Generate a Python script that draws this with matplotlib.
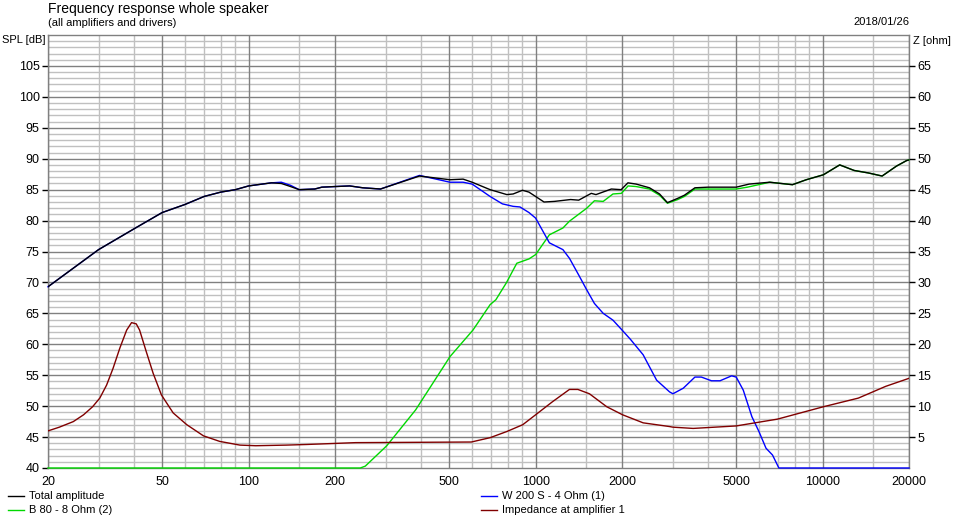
import numpy as np
import matplotlib.pyplot as plt
from matplotlib.lines import Line2D
from matplotlib.ticker import FixedLocator, NullFormatter

plt.rcParams['font.family'] = ['Liberation Sans', 'DejaVu Sans']

# total amplitude (dB)
tot_f = [20, 30, 40, 50, 60, 70, 80, 90, 100, 120, 130, 140, 150, 170, 180, 200, 225, 250,
         288, 394, 503, 559, 601, 694, 794, 835, 900, 948, 1070, 1163, 1324, 1413, 1563, 1623,
         1836, 1987, 2097, 2240, 2493, 2703, 2880, 3130, 3300, 3590, 3990, 5000, 5550, 6540,
         7850, 8770, 10060, 11470, 12880, 14430, 16120, 18080, 19620, 20000]
tot_db = [69.3, 75.3, 78.7, 81.3, 82.6, 83.9, 84.6, 85.0, 85.6, 86.1, 86.0, 85.5, 85.0, 85.1, 85.4, 85.5, 85.6, 85.3,
          85.1, 87.2, 86.6, 86.7, 86.2, 85.0, 84.2, 84.3, 84.9, 84.6, 83.0, 83.1, 83.4, 83.3, 84.4, 84.2,
          85.1, 85.0, 86.1, 85.9, 85.3, 84.3, 82.9, 83.6, 84.1, 85.3, 85.4, 85.4, 85.9, 86.2,
          85.8, 86.6, 87.4, 89.0, 88.1, 87.7, 87.2, 88.8, 89.7, 89.8]

# W 200 S - 4 Ohm (1)
woof_f = [20, 30, 40, 50, 60, 70, 80, 90, 100, 120, 130, 140, 150, 170, 180, 200, 225, 250,
          288, 394, 503, 559, 601, 694, 766, 835, 882, 948, 1000, 1117, 1245, 1312, 1413, 1507,
          1603, 1720, 1860, 2010, 2140, 2370, 2640, 2930, 3010, 3270, 3590, 3780, 4100, 4390, 4820, 5000,
          5290, 5670, 6000, 6350, 6690, 7040, 20000]
woof_db = [69.3, 75.3, 78.7, 81.3, 82.6, 83.9, 84.6, 85.0, 85.6, 86.1, 86.2, 85.7, 85.0, 85.1, 85.4, 85.5, 85.6, 85.3,
           85.1, 87.3, 86.2, 86.2, 85.9, 83.9, 82.7, 82.3, 82.2, 81.3, 80.4, 76.4, 75.3, 73.9, 71.2, 68.8,
           66.6, 65.0, 63.9, 62.2, 60.8, 58.3, 54.2, 52.3, 52.0, 52.9, 54.7, 54.7, 54.1, 54.1, 54.9, 54.7,
           52.6, 48.3, 45.9, 43.2, 42.1, 40.0, 40.0]

# B 80 - 8 Ohm (2)
tw_f = [20, 245, 255, 303, 382, 503, 605, 694, 727, 790, 860, 948, 1000, 1117, 1245, 1312, 1507, 1603,
        1720, 1860, 1990, 2100, 2240, 2490, 2703, 2880, 3130, 3300, 3590, 3990, 5000, 5470, 6540,
        7850, 8770, 10060, 11470, 12880, 14430, 16120, 18080, 19620, 20000]
tw_db = [40.0, 40.0, 40.3, 43.6, 49.4, 58.0, 62.3, 66.4, 67.2, 69.9, 73.1, 73.8, 74.5, 77.7, 78.8, 79.9, 82.0, 83.2,
         83.1, 84.3, 84.4, 85.6, 85.5, 85.1, 84.1, 82.8, 83.4, 83.9, 85.1, 85.1, 85.1, 85.4, 86.2,
         85.8, 86.6, 87.4, 89.0, 88.1, 87.7, 87.2, 88.8, 89.7, 89.8]

# impedance at amplifier 1 (ohm)
imp_f = [20, 21.9, 24.5, 26.6, 28.6, 30.3, 32.0, 33.7, 35.6, 37.6, 39.1, 40.6, 41.7, 44.0, 46.5,
         49.7, 54.6, 60.9, 69.6, 79.3, 93.3, 106, 135, 159, 207, 236, 597, 694, 794, 902, 1000,
         1144, 1312, 1404, 1540, 1770, 2010, 2370, 2930, 3010, 3540, 5000, 6960, 10060, 13320,
         16590, 20000]
imp_ohm = [6.0, 6.6, 7.5, 8.6, 9.9, 11.3, 13.4, 16.1, 19.4, 22.3, 23.5, 23.3, 22.3, 18.8, 15.3,
           11.8, 8.9, 7.0, 5.2, 4.3, 3.7, 3.6, 3.7, 3.8, 4.0, 4.1, 4.2, 4.9, 5.9, 7.0, 8.6,
           10.7, 12.7, 12.7, 12.0, 9.9, 8.6, 7.3, 6.7, 6.6, 6.4, 6.8, 7.9, 9.9, 11.3,
           13.2, 14.5]

x_major = [20, 50, 100, 200, 500, 1000, 2000, 5000, 10000, 20000]
x_minor = [30, 40, 60, 70, 80, 90, 150, 300, 400, 600, 700, 800, 900, 1500,
           3000, 4000, 6000, 7000, 8000, 9000, 15000]

fig = plt.figure(figsize=(9.54, 5.19), dpi=100)
W, H = 954, 519
ax = fig.add_axes([48 / W, (H - 468) / H, (909 - 48) / W, (468 - 35) / H])
ax.set_xscale('log')
ax.set_xlim(20, 20000)
ax.set_ylim(40, 110)

# grid
for y in range(41, 110):
    if y % 5:
        ax.axhline(y, color='#c0c0c0', lw=1, zorder=0)
for x in x_minor:
    ax.axvline(x, color='#c0c0c0', lw=1, zorder=0.5)
for y in range(45, 110, 5):
    ax.axhline(y, color='#808080', lw=1, zorder=1)
for x in x_major:
    ax.axvline(x, color='#808080', lw=1, zorder=1)

ax.plot(tw_f, tw_db, color='#00d800', lw=1, zorder=3, clip_on=False)
ax.plot(woof_f, woof_db, color='#0000ff', lw=1, zorder=4, clip_on=False)
ax.plot(tot_f, tot_db, color='black', lw=1, zorder=5)

ax.xaxis.set_major_locator(FixedLocator(x_major))
ax.xaxis.set_minor_locator(FixedLocator([]))
ax.set_xticklabels([str(v) for v in x_major])
ax.xaxis.set_minor_formatter(NullFormatter())
ax.tick_params(axis='x', length=0, labelsize=9, pad=6)
ax.set_yticks(range(40, 110, 5))
ax.tick_params(axis='y', length=4, width=1, labelsize=9, pad=2)

for s in ax.spines.values():
    s.set_color('#808080')
    s.set_linewidth(1)

ax2 = ax.twinx()
ax2.set_ylim(0, 70)
ax2.plot(imp_f, imp_ohm, color='#800000', lw=1, zorder=6)
ax2.set_yticks(range(5, 70, 5))
ax2.tick_params(axis='y', length=4, width=1, labelsize=9, pad=2)
for s in ax2.spines.values():
    s.set_visible(False)

fig.text(48 / W, 1 - 9 / H, 'Frequency response whole speaker', fontsize=10, va='center', ha='left')
fig.text(48 / W, 1 - 23 / H, '(all amplifiers and drivers)', fontsize=8, va='center', ha='left')
fig.text(909 / W, 1 - 22 / H, '2018/01/26', fontsize=8, va='center', ha='right')
fig.text(2 / W, 1 - 40 / H, 'SPL [dB]', fontsize=8, va='center', ha='left')
fig.text(913 / W, 1 - 41 / H, 'Z [ohm]', fontsize=8, va='center', ha='left')

# legend
legend_items = [(8, 496, 'black', 'Total amplitude'),
                (8, 510, '#00d800', 'B 80 - 8 Ohm (2)'),
                (481, 496, '#0000ff', 'W 200 S - 4 Ohm (1)'),
                (481, 510, '#800000', 'Impedance at amplifier 1')]
for lx, ly, c, label in legend_items:
    fig.add_artist(Line2D([lx / W, (lx + 16) / W], [1 - ly / H, 1 - ly / H], color=c, lw=1))
    fig.text((lx + 21) / W, 1 - ly / H, label, fontsize=8, va='center', ha='left')

fig.savefig('out.png', dpi=100)
